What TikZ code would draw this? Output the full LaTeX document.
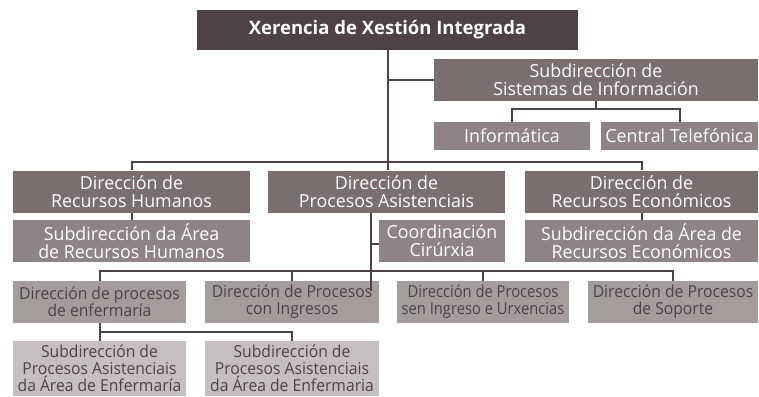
\documentclass[tikz,border=0pt]{standalone}
\usepackage{fontspec}
\setmainfont{Open Sans}
\newfontfamily\condfont{Open Sans}[FakeStretch=0.99]
\newfontfamily\smallfont{Open Sans}[FakeStretch=0.95]
\definecolor{cTop}{HTML}{4F4244}
\definecolor{cLvA}{HTML}{7B6E6F}
\definecolor{cLvB}{HTML}{8F8485}
\definecolor{cLvC}{HTML}{A59C9C}
\definecolor{cLvD}{HTML}{C6BFBF}
\definecolor{cLine}{HTML}{4F4244}
\begin{document}
\begin{tikzpicture}[x=1pt,y=-1pt,
  box/.style={rectangle, inner sep=0pt, align=center, text=white,
    font=\condfont\fontsize{18}{18}\selectfont},
  topbox/.style={box, fill=cTop, font=\bfseries\fontsize{18.5}{20}\selectfont},
  boxA/.style={box, fill=cLvA},
  boxB/.style={box, fill=cLvB},
  boxC/.style={box, fill=cLvC, text=cTop, font=\smallfont\fontsize{16.5}{17}\selectfont},
  boxD/.style={box, fill=cLvD, text=cTop, font=\smallfont\fontsize{16.5}{17}\selectfont},
  conn/.style={draw=cLine, line width=2pt}]
\useasboundingbox (0,0) rectangle (759,396);
% nodes
\node[topbox, minimum width=381, minimum height=40] (top) at (387.5,30) {Xerencia de Xestión Integrada};
\node[boxA, minimum width=324, minimum height=42] (sis) at (596,80) {Subdirección de\\Sistemas de Información};
\node[boxB, minimum width=156, minimum height=28] (inf) at (512,136) {Informática};
\node[boxB, minimum width=157, minimum height=28] (cen) at (679.5,136) {Central Telefónica};
\node[boxA, minimum width=237, minimum height=42] (rh) at (131.5,191.5) {Dirección de\\Recursos Humanos};
\node[boxA, minimum width=237, minimum height=42] (pa) at (386.5,191.5) {Dirección de\\Procesos Asistenciais};
\node[boxA, minimum width=233, minimum height=42] (re) at (641.5,191.5) {Dirección de\\Recursos Económicos};
\node[boxB, minimum width=237, minimum height=42] (subrh) at (131.5,241) {Subdirección da Área\\de Recursos Humanos};
\node[boxB, minimum width=126, minimum height=42] (coord) at (442,241) {Coordinación\\Cirúrxia};
\node[boxB, minimum width=233, minimum height=42] (subre) at (641.5,241) {Subdirección da Área de\\Recursos Económicos};
\node[boxC, minimum width=173, minimum height=42] (enf) at (99.5,302) {Dirección de procesos\\de enfermaría};
\node[boxC, minimum width=174, minimum height=42] (ci) at (292,302) {Dirección de Procesos\\con Ingresos};
\node[boxC, minimum width=172, minimum height=42] (si) at (483,302) {\scalebox{0.94}[1]{Dirección de Procesos}\\\scalebox{0.94}[1]{sen Ingreso e Urxencias}};
\node[boxC, minimum width=170, minimum height=42] (sop) at (673,302) {Dirección de Procesos\\de Soporte};
\node[boxD, minimum width=173, minimum height=55] (sub1) at (99.5,368.5) {Subdirección de\\Procesos Asistenciais\\da Área de Enfermaría};
\node[boxD, minimum width=174, minimum height=55] (sub2) at (292,368.5) {Subdirección de\\Procesos Asistenciais\\da Área de Enfermaria};
% connectors
\draw[conn] (top.south) -- (top.south |- pa.north);
\draw[conn] (top.south |- sis.west) -- (sis.west);
\draw[conn] (sis.south) -- ++(0,8);
\draw[conn] (inf.north) -- ++(0,-13) -| (cen.north);
\draw[conn] (rh.north) -- ++(0,-8) -| (re.north);
\draw[conn] (rh.south) -- (subrh.north);
\draw[conn] (re.south) -- (subre.north);
\coordinate (pax) at ([xshift=-15.5pt]pa.south);
\draw[conn] (pax) |- ([yshift=-3pt]coord.west);
\draw[conn] (pax) -- ([yshift=-10pt]pax |- enf.north);
\draw[conn] (enf.north) -- ++(0,-10) -| (sop.north);
\draw[conn] (ci.north) -- ++(0,-10);
\draw[conn] (si.north) -- ++(0,-10);
\draw[conn] (enf.south) -- (sub1.north);
\draw[conn] (enf.south) ++(0,9) -| (sub2.north);
\end{tikzpicture}
\end{document}
